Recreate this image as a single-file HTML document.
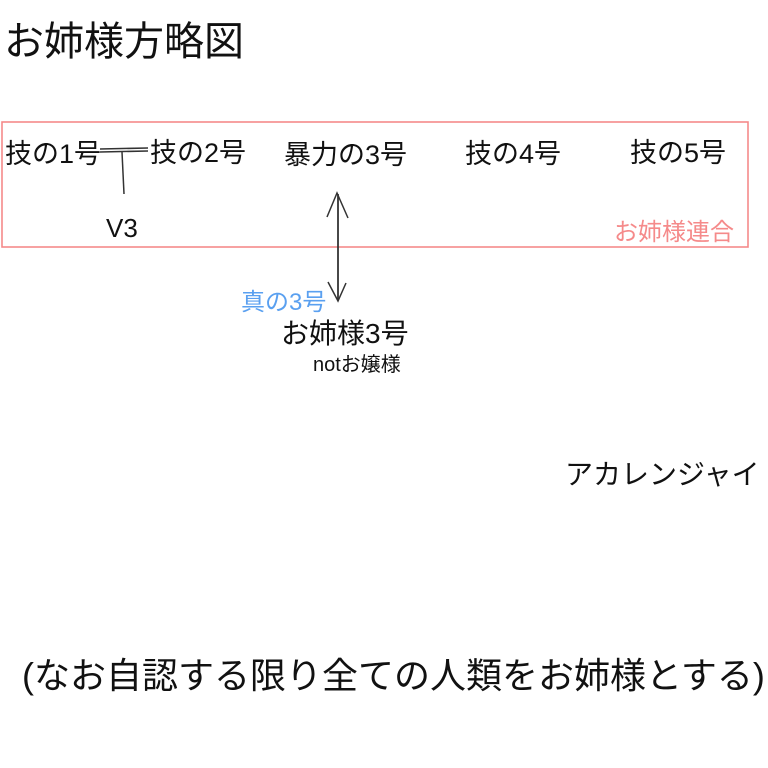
<!DOCTYPE html>
<html><head><meta charset="utf-8"><style>
html,body{margin:0;padding:0;background:#fff;}
body{width:768px;height:768px;position:relative;overflow:hidden;font-family:"Liberation Sans","Noto Sans CJK JP",sans-serif;color:#111;}
.t{position:absolute;white-space:nowrap;line-height:1;}
svg{position:absolute;left:0;top:0;}
</style></head><body>
<svg width="768" height="768">
<rect x="2" y="122" width="746" height="125" fill="none" stroke="#f58a8a" stroke-width="1.6"/>
<line x1="100" y1="149" x2="148" y2="148" stroke="#333" stroke-width="1.5"/>
<line x1="100" y1="152" x2="148" y2="151" stroke="#333" stroke-width="1.5"/>
<line x1="122" y1="152" x2="124" y2="194" stroke="#333" stroke-width="1.5"/>
<line x1="338" y1="194" x2="338" y2="300" stroke="#333" stroke-width="1.8"/>
<polyline points="327,217 337,193 348,218" fill="none" stroke="#333" stroke-width="1.5"/>
<polyline points="328,282 338,301 346,283" fill="none" stroke="#333" stroke-width="1.5"/>
</svg>
<div class="t" style="left:4px;top:22px;font-size:40px;">お姉様方略図</div>
<div class="t" style="left:5px;top:141px;font-size:27px;">技の1号</div>
<div class="t" style="left:150px;top:140px;font-size:27px;">技の2号</div>
<div class="t" style="left:284px;top:142px;font-size:27px;">暴力の3号</div>
<div class="t" style="left:465px;top:141px;font-size:27px;">技の4号</div>
<div class="t" style="left:630px;top:140px;font-size:27px;">技の5号</div>
<div class="t" style="left:106px;top:215px;font-size:26px;">V3</div>
<div class="t" style="left:614px;top:221px;font-size:24px;color:#f58a8a;">お姉様連合</div>
<div class="t" style="left:241px;top:291px;font-size:24px;color:#5aa0f0;">真の3号</div>
<div class="t" style="left:281px;top:320px;font-size:28px;">お姉様3号</div>
<div class="t" style="left:313px;top:355px;font-size:20px;">notお嬢様</div>
<div class="t" style="left:565px;top:461px;font-size:28px;">アカレンジャイ</div>
<div class="t" style="left:22px;top:658px;font-size:36px;">(なお自認する限り全ての人類をお姉様とする)</div>
</body></html>
